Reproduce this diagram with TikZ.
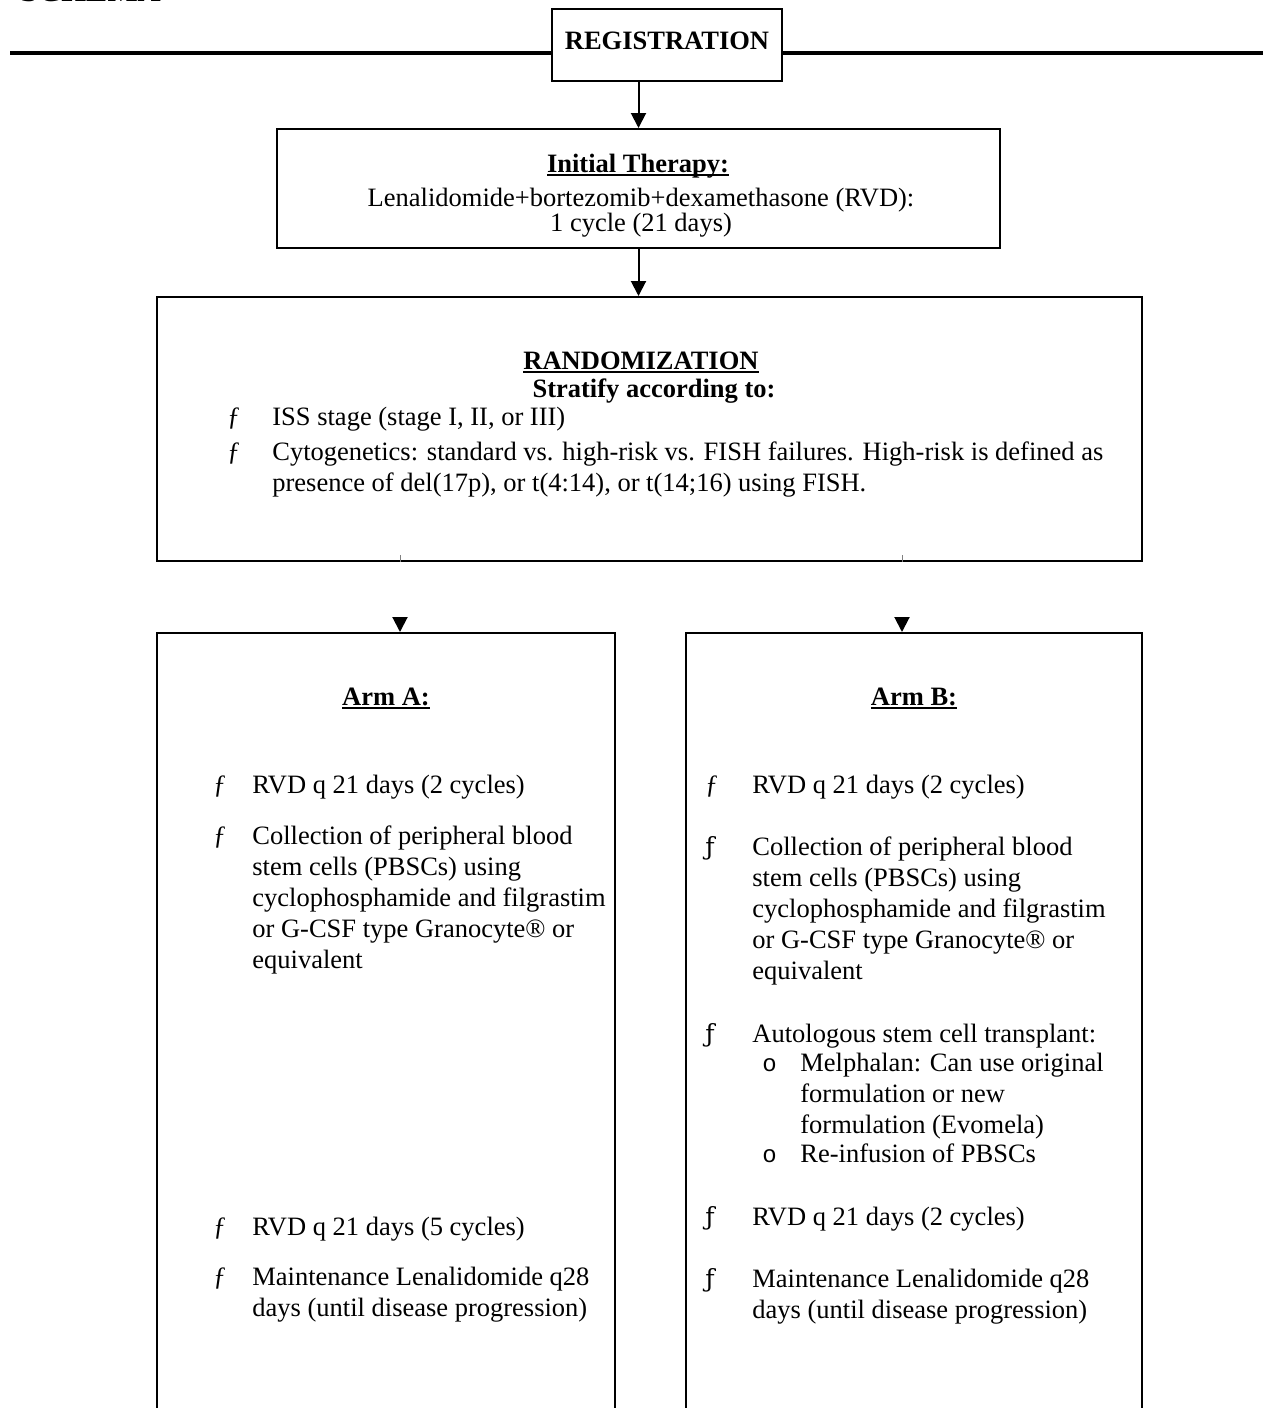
\documentclass[tikz,border=0pt]{standalone}
\usepackage{fontspec}
\setmainfont{Liberation Serif}
\newfontfamily\bulBfont{DejaVu Serif}
\newfontfamily\monofont{Liberation Mono}
\usetikzlibrary{fit,arrows.meta}
\newcommand{\mylines}[1]{\begin{tabular}[t]{@{}l@{}}#1\end{tabular}}
\newcommand{\myul}[1]{\setbox0\hbox{#1}\rlap{\rule[-2pt]{\wd0}{0.9pt}}\box0}
\begin{document}
\begin{tikzpicture}[x=0.5pt,y=-0.5pt,
  box/.style={draw, line width=1pt, inner sep=0pt},
  txt/.style={inner sep=0pt, anchor=base west, font=\fontsize{13.25}{15.5}\selectfont},
  ctxt/.style={inner sep=0pt, anchor=base, font=\fontsize{13.25}{15.5}\selectfont},
  htxt/.style={inner sep=0pt, anchor=base, font=\fontsize{13.25}{15.5}\selectfont\bfseries},
  arr/.style={line width=1pt, -{Triangle[width=7.5pt,length=7.5pt]}},
  bul/.style={txt},
  bulb/.style={txt, font=\fontsize{12.5}{15.5}\bulBfont},
  subbul/.style={txt, font=\fontsize{12}{15.5}\monofont}
]
\useasboundingbox (0,0) rectangle (1263,1408);

% header (cut off at the top edge, as in the reference)
\node[inner sep=0pt, anchor=base west, font=\fontsize{16}{18}\selectfont\bfseries] (schema) at (20,2) {SCHEMA};

% boxes
\node[box, fit={(552,9) (782,81)}] (reg) {};
\node[htxt] (regt) at (667,49) {REGISTRATION};
\draw[line width=2.3pt] (10,53) -- (reg.west |- 10,53);
\draw[line width=2.3pt] (reg.east |- 1263,53) -- (1263,53);

\node[box, fit={(277,129) (1000,248)}] (ini) {};
\node[htxt] (init) at (638,172) {\myul{Initial Therapy:}};
\node[ctxt] (inil2) at (641,206) {Lenalidomide+bortezomib+dexamethasone (RVD):};
\node[ctxt] (inil3) at (641,231) {1 cycle (21 days)};

\node[box, fit={(157,297) (1142,561)}] (rand) {};
\node[htxt] (randt) at (641,369) {\myul{RANDOMIZATION}};
\node[htxt] (strat) at (654,397) {Stratify according to:};
\node[bul] (rb1) at (227,425) {ƒ};
\node[txt] (rt1) at (272,425) {ISS stage (stage I, II, or III)};
\node[bul] (rb2) at (227,460) {ƒ};
\node[txt] (rt2) at (272,460) {\mylines{Cytogenetics: standard vs. high-risk vs. FISH failures. High-risk is defined as\\presence of del(17p), or t(4:14), or t(14;16) using FISH.}};

\node[box, fit={(157,633) (615,1440)}] (armA) {};
\node[box, fit={(686,633) (1142,1440)}] (armB) {};

% connectors
\draw[arr] (ini.north |- reg.south) -- (ini.north);
\draw[arr] (ini.south) -- (ini.south |- rand.north);
\coordinate (tA) at (400,555);
\coordinate (tB) at (902,555);
\draw[line width=0.3pt, gray] (tA) -- (tA |- rand.south);
\draw[line width=0.3pt, gray] (tB) -- (tB |- rand.south);
\coordinate (aA) at (400,617);
\coordinate (aB) at (902,617);
\draw[arr] (aA) -- (aA |- armA.north);
\draw[arr] (aB) -- (aB |- armB.north);

% Arm A
\node[htxt] (armAt) at (386,705) {\myul{Arm A:}};
\node[bul] (ab1) at (213,793) {ƒ};
\node[txt] (at1) at (252,793) {RVD q 21 days (2 cycles)};
\node[bul] (ab2) at (213,844) {ƒ};
\node[txt] (at2) at (252,844) {\mylines{Collection of peripheral blood\\stem cells (PBSCs) using\\cyclophosphamide and filgrastim\\or G-CSF type Granocyte® or\\equivalent}};
\node[bul] (ab3) at (213,1235) {ƒ};
\node[txt] (at3) at (252,1235) {RVD q 21 days (5 cycles)};
\node[bul] (ab4) at (213,1285) {ƒ};
\node[txt] (at4) at (252,1285) {\mylines{Maintenance Lenalidomide q28\\days (until disease progression)}};

% Arm B
\node[htxt] (armBt) at (914,705) {\myul{Arm B:}};
\node[bul] (bb1) at (705,793) {ƒ};
\node[txt] (bt1) at (752,793) {RVD q 21 days (2 cycles)};
\node[bulb] (bb2) at (705,855) {ƒ};
\node[txt] (bt2) at (752,855) {\mylines{Collection of peripheral blood\\stem cells (PBSCs) using\\cyclophosphamide and filgrastim\\or G-CSF type Granocyte® or\\equivalent}};
\node[bulb] (bb3) at (705,1042) {ƒ};
\node[txt] (bt3) at (752,1042) {Autologous stem cell transplant:};
\node[subbul] (bs1) at (762,1071) {o};
\node[txt] (bst1) at (800,1071) {\mylines{Melphalan: Can use original\\formulation or new\\formulation (Evomela)}};
\node[subbul] (bs2) at (762,1162) {o};
\node[txt] (bst2) at (800,1162) {Re-infusion of PBSCs};
\node[bulb] (bb4) at (705,1225) {ƒ};
\node[txt] (bt4) at (752,1225) {RVD q 21 days (2 cycles)};
\node[bulb] (bb5) at (705,1287) {ƒ};
\node[txt] (bt5) at (752,1287) {\mylines{Maintenance Lenalidomide q28\\days (until disease progression)}};
\end{tikzpicture}
\end{document}
